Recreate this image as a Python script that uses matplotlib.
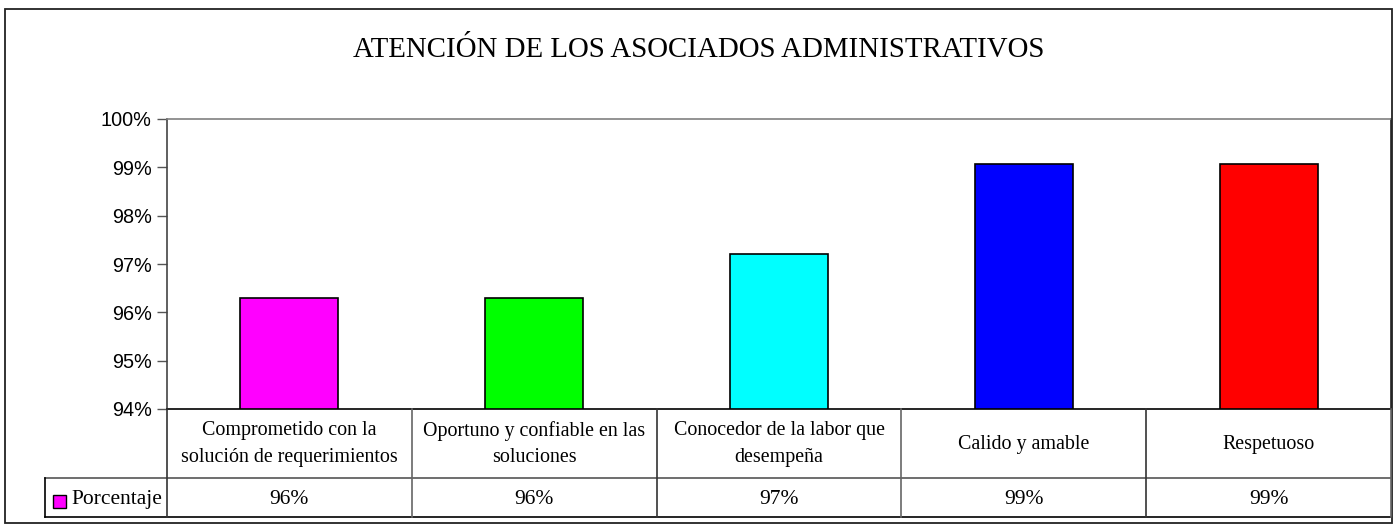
import matplotlib.pyplot as plt
from matplotlib.lines import Line2D
from matplotlib.patches import Rectangle
import matplotlib.transforms as mtransforms

# datos de la encuesta
categorias = [
    "Comprometido con la\nsolución de requerimientos",
    "Oportuno y confiable en las\nsoluciones",
    "Conocedor de la labor que\ndesempeña",
    "Calido y amable",
    "Respetuoso",
]
porcentaje = [96.3, 96.3, 97.2, 99.07, 99.07]
colores = ["#FF00FF", "#00FF00", "#00FFFF", "#0000FF", "#FF0000"]
y_ticks = [94, 95, 96, 97, 98, 99, 100]

W, H = 1397, 529
fig = plt.figure(figsize=(W / 100, H / 100), dpi=100)
serif = "Liberation Serif"
sans = "Liberation Sans"


def fx(px):
    return px / W


def fy(py):
    return 1 - py / H


# area del grafico (en pixeles)
x0, x1 = 167, 1391
ytop, ybot = 119, 409
ax = fig.add_axes([fx(x0), fy(ybot), fx(x1) - fx(x0), fy(ytop) - fy(ybot)])

xs = range(len(categorias))
ax.bar(xs, [v - 94 for v in porcentaje], bottom=94, width=0.4,
       color=colores, edgecolor="black", linewidth=1.2, zorder=3)
ax.set_xlim(-0.5, len(categorias) - 0.5)
ax.set_ylim(94, 100)
ax.set_yticks(y_ticks)
ax.set_yticklabels([f"{t}%" for t in y_ticks], fontfamily=sans, fontsize=14.3)
ax.tick_params(axis="y", direction="out", length=7, width=1, color="#555555", pad=4)
ax.set_xticks([])
ax.spines["top"].set_color("#808080")
ax.spines["left"].set_color("#444444")
ax.spines["right"].set_color("#222222")
ax.spines["bottom"].set_color("black")
for s in ax.spines.values():
    s.set_linewidth(1.2)

fig.text(fx(699), fy(57), "ATENCIÓN DE LOS ASOCIADOS ADMINISTRATIVOS",
         ha="center", va="baseline", fontfamily=serif, fontsize=20.8)

# tabla de datos debajo del eje
row1, row2 = 478, 517
col_px = [x0 + i * (x1 - x0) / len(categorias) for i in range(len(categorias) + 1)]
leg_left = 45


def hline(y, xa, xb, color="black", lw=1.2):
    fig.add_artist(Line2D([fx(xa), fx(xb)], [fy(y), fy(y)], color=color, lw=lw))


def vline(x, ya, yb, color="black", lw=1.2):
    fig.add_artist(Line2D([fx(x), fx(x)], [fy(ya), fy(yb)], color=color, lw=lw))


hline(row1, leg_left, x1, color="#555555")
hline(row2, leg_left, x1)
vline(leg_left, row1, row2)
for i, c in enumerate(col_px):
    vline(c, ybot, row2, color="#333333" if i % 2 == 0 else "#666666")

trans = mtransforms.blended_transform_factory(ax.transData, fig.transFigure)
for i, (cat, v) in enumerate(zip(categorias, porcentaje)):
    fig.text(i, fy(444), cat, transform=trans, ha="center", va="center",
             fontfamily=serif, fontsize=14.4, linespacing=1.55)
    fig.text(i, fy(504), f"{v:.0f}%", transform=trans, ha="center",
             va="baseline", fontfamily=serif, fontsize=15.5)

# clave de la serie
fig.add_artist(Rectangle((fx(53), fy(508)), fx(13), fy(495) - fy(508),
                         facecolor=colores[0], edgecolor="black", lw=1))
fig.text(fx(71), fy(504), "Porcentaje", ha="left", va="baseline",
         fontfamily=serif, fontsize=15.5)

# borde exterior
fig.add_artist(Rectangle((fx(5), fy(523)), fx(1392) - fx(5), fy(9) - fy(523),
                         fill=False, edgecolor="#222222", lw=1.3))

fig.savefig("out.png", dpi=100)
